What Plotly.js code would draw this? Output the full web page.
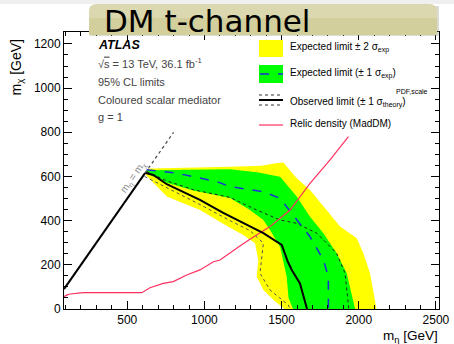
<!DOCTYPE html>
<html>
<head>
<meta charset="utf-8">
<script src="https://cdn.plot.ly/plotly-3.0.1.min.js"></script>
<style>html,body{margin:0;padding:0;background:#fff;}#chart{width:454px;height:344px;}</style>
</head>
<body>
<div id="chart"></div>
<script>
// ---- data (GeV) ----
const yellowUpX = [615, 640, 800, 1000, 1166, 1371, 1460, 1511, 1598, 1684, 1793, 1879, 1987, 2030, 2073, 2112, 2115];
const yellowUpY = [615, 636, 638, 640, 644, 648, 660, 663, 592, 539, 448, 373, 320, 252, 162, 18, 0];
const yellowLoX = [1520, 1450, 1382, 1339, 1349, 1328, 1252, 1166, 971, 756, 630];
const yellowLoY = [0, 40, 86, 146, 222, 298, 335, 368, 448, 509, 600];

const greenUpX = [625, 800, 1000, 1166, 1350, 1490, 1598, 1684, 1771, 1857, 1922, 1972, 1976];
const greenUpY = [628, 630, 630, 633, 618, 599, 509, 418, 343, 252, 162, 18, 0];
const greenLoX = [1574, 1545, 1533, 1511, 1490, 1425, 1382, 1295, 1166, 928, 756, 631];
const greenLoY = [0, 50, 146, 222, 282, 358, 403, 448, 502, 536, 572, 612];

const expX = [626, 820, 1079, 1166, 1295, 1382, 1490, 1598, 1684, 1771, 1803, 1803];
const expY = [630, 615, 577, 554, 540, 531, 501, 403, 327, 222, 146, 0];

const obsX = [615, 669, 756, 863, 971, 1122, 1166, 1295, 1382, 1501, 1540, 1566, 1619, 1665];
const obsY = [617, 607, 565, 531, 494, 435, 420, 376, 343, 290, 215, 177, 116, 0];

const obsUpX = [626, 756, 928, 1166, 1339, 1490, 1598, 1728, 1857, 1911, 1933, 1935];
const obsUpY = [622, 580, 540, 505, 448, 403, 388, 343, 252, 162, 18, 0];

const obsDnX = [612, 756, 971, 1166, 1295, 1382, 1371, 1360, 1425, 1544, 1555];
const obsDnY = [600, 549, 473, 400, 355, 298, 222, 162, 86, 18, 0];

const relicX = [90, 110, 130, 215, 400, 594, 647, 733, 798, 885, 971, 1058, 1101, 1166, 1230, 1295, 1425, 1555, 1684, 1814, 1933];
const relicY = [56, 64, 68, 74, 74, 74, 96, 116, 124, 154, 177, 214, 222, 255, 285, 316, 373, 448, 569, 675, 780];

const diagSolidX = [90, 615];
const diagSolidY = [90, 615];
const diagDotX = [615, 800];
const diagDotY = [615, 800];

const xTickVals = [500, 1000, 1500, 2000, 2500];
const yTickVals = [0, 200, 400, 600, 800, 1000, 1200];

// ---- build ----
const poly = (ux, uy, lx, ly) => ({x: ux.concat(lx), y: uy.concat(ly)});
const yb = poly(yellowUpX, yellowUpY, yellowLoX, yellowLoY);
const gb = poly(greenUpX, greenUpY, greenLoX, greenLoY);

const traces = [
  {x: yb.x, y: yb.y, type: 'scatter', mode: 'lines', fill: 'toself', fillcolor: '#ffff00', line: {width: 0, color: '#ffff00'}, hoverinfo: 'skip'},
  {x: gb.x, y: gb.y, type: 'scatter', mode: 'lines', fill: 'toself', fillcolor: '#00ff00', line: {width: 0, color: '#00ff00'}, hoverinfo: 'skip'},
  {x: obsUpX, y: obsUpY, type: 'scatter', mode: 'lines', line: {color: '#222', width: 1, dash: 'dot'}},
  {x: obsDnX, y: obsDnY, type: 'scatter', mode: 'lines', line: {color: '#555', width: 1, dash: 'dot'}},
  {x: expX, y: expY, type: 'scatter', mode: 'lines', line: {color: '#1a2fd8', width: 1.5, dash: 'dash'}},
  {x: relicX, y: relicY, type: 'scatter', mode: 'lines', line: {color: '#ff3060', width: 1.2}},
  {x: obsX, y: obsY, type: 'scatter', mode: 'lines', line: {color: '#000', width: 2}},
  {x: diagSolidX, y: diagSolidY, type: 'scatter', mode: 'lines', line: {color: '#000', width: 2}},
  {x: diagDotX, y: diagDotY, type: 'scatter', mode: 'lines', line: {color: '#444', width: 1.2, dash: 'dot'}}
];

const F = 'Liberation Sans, Arial, sans-serif';
const L = 64, R = 439, T = 32, B = 309;
const px = v => (v - L) / (R - L);
const py = v => (B - v) / (B - T);

const ann = (text, x, y, opts) => Object.assign({text: text, x: px(x), y: py(y), xref: 'paper', yref: 'paper', showarrow: false, xanchor: 'left', yanchor: 'middle', font: {family: F, size: 10, color: '#000'}}, opts || {});

const annotations = [
  ann('DM t-channel', 102, 21, {font: {family: 'DejaVu Sans, sans-serif', size: 31, color: '#000'}}),
  ann('<b><i>ATLAS</i></b>', 96, 45, {font: {family: F, size: 12.5, color: '#000'}}),
  ann('√<span style="text-decoration:overline">s</span> = 13 TeV, 36.1 fb<sup>-1</sup>', 96, 63, {font: {family: F, size: 11}}),
  ann('95% CL limits', 96, 82, {font: {family: F, size: 11}}),
  ann('Coloured scalar mediator', 96, 100, {font: {family: F, size: 11}}),
  ann('g = 1', 96, 117, {font: {family: F, size: 11}}),
  ann('Expected limit ± 2 σ<sub>exp</sub>', 288, 47),
  ann('Expected limit (± 1 σ<sub>exp</sub>)', 288, 73),
  ann('Observed limit (± 1 σ<sub>theory</sub>)', 288, 102),
  ann('PDF,scale', 394, 91, {font: {family: F, size: 7, color: '#000'}}),
  ann('Relic density (MadDM)', 288, 124),
  ann('m<sub>η</sub> = m<sub>χ</sub>', 133, 177, {xanchor: 'center', textangle: -55, font: {family: F, size: 10, color: '#888'}}),
  ann('m<sub>η</sub> [GeV]', 440, 336, {xanchor: 'right', font: {family: F, size: 13.5, color: '#000'}}),
  ann('m<sub>χ</sub> [GeV]', 16, 37, {xanchor: 'center', yanchor: 'top', textangle: -90, font: {family: F, size: 14, color: '#000'}})
];

// banner path (rounded top corners), paper coords
const roundTop = (x0p, x1p, y0p, y1p, r) => {
  const bx0 = px(x0p), bx1 = px(x1p), by0 = py(y0p), by1 = py(y1p);
  const rx = r / (R - L), ry = r / (B - T);
  return `M ${bx0},${by0} L ${bx0},${by1 - ry} Q ${bx0},${by1} ${bx0 + rx},${by1} L ${bx1 - rx},${by1} Q ${bx1},${by1} ${bx1},${by1 - ry} L ${bx1},${by0} Z`;
};

const shapes = [
  {type: 'rect', xref: 'paper', yref: 'paper', x0: px(0), x1: px(454), y0: py(4), y1: py(0), fillcolor: '#efefef', line: {width: 0}, layer: 'above'},
  {type: 'rect', xref: 'paper', yref: 'paper', x0: px(90), x1: px(439), y0: py(36), y1: py(6), fillcolor: 'rgba(150,150,140,0.35)', line: {width: 0}, layer: 'above'},
  {type: 'path', xref: 'paper', yref: 'paper', path: roundTop(89, 437, 35, 4, 8), fillcolor: '#d3cf9d', line: {width: 0}, layer: 'above'},
  {type: 'path', xref: 'paper', yref: 'paper', path: roundTop(89, 437, 18, 4, 8), fillcolor: 'rgba(255,255,255,0.18)', line: {width: 0}, layer: 'above'},
  // legend symbols
  {type: 'rect', xref: 'paper', yref: 'paper', x0: px(259), x1: px(283), y0: py(57), y1: py(40), fillcolor: '#ffff00', line: {width: 0}},
  {type: 'rect', xref: 'paper', yref: 'paper', x0: px(259), x1: px(283), y0: py(83), y1: py(65), fillcolor: '#00ff00', line: {width: 0}},
  {type: 'line', xref: 'paper', yref: 'paper', x0: px(260), x1: px(283), y0: py(74), y1: py(74), line: {color: '#1a2fd8', width: 1.5, dash: 'dash'}},
  {type: 'line', xref: 'paper', yref: 'paper', x0: px(259), x1: px(283), y0: py(100), y1: py(100), line: {color: '#000', width: 2}},
  {type: 'line', xref: 'paper', yref: 'paper', x0: px(259), x1: px(283), y0: py(95), y1: py(95), line: {color: '#333', width: 1, dash: 'dot'}},
  {type: 'line', xref: 'paper', yref: 'paper', x0: px(259), x1: px(283), y0: py(105), y1: py(105), line: {color: '#333', width: 1, dash: 'dot'}},
  {type: 'line', xref: 'paper', yref: 'paper', x0: px(259), x1: px(283), y0: py(125), y1: py(125), line: {color: '#ff3060', width: 1.2}}
];

const axisCommon = {
  showline: true, linecolor: '#000', linewidth: 1, mirror: 'ticks',
  ticks: 'inside', ticklen: 8, tickcolor: '#000', tickwidth: 1,
  showgrid: false, zeroline: false,
  tickfont: {family: F, size: 12, color: '#000'}
};

const layout = {
  width: 454, height: 344,
  margin: {l: L, r: 454 - R, t: T, b: 344 - B, pad: 0},
  paper_bgcolor: '#fff', plot_bgcolor: '#fff',
  showlegend: false,
  xaxis: Object.assign({}, axisCommon, {range: [90, 2520], tickvals: xTickVals, ticktext: xTickVals.map(String),
    minor: {ticks: 'inside', ticklen: 4, dtick: 100, tick0: 0, tickcolor: '#000', showgrid: false}}),
  yaxis: Object.assign({}, axisCommon, {range: [0, 1254], tickvals: yTickVals, ticktext: yTickVals.map(String),
    minor: {ticks: 'inside', ticklen: 4, dtick: 50, tick0: 0, tickcolor: '#000', showgrid: false}}),
  annotations: annotations,
  shapes: shapes
};

Plotly.newPlot('chart', traces, layout, {staticPlot: true, displayModeBar: false});
</script>
</body>
</html>
